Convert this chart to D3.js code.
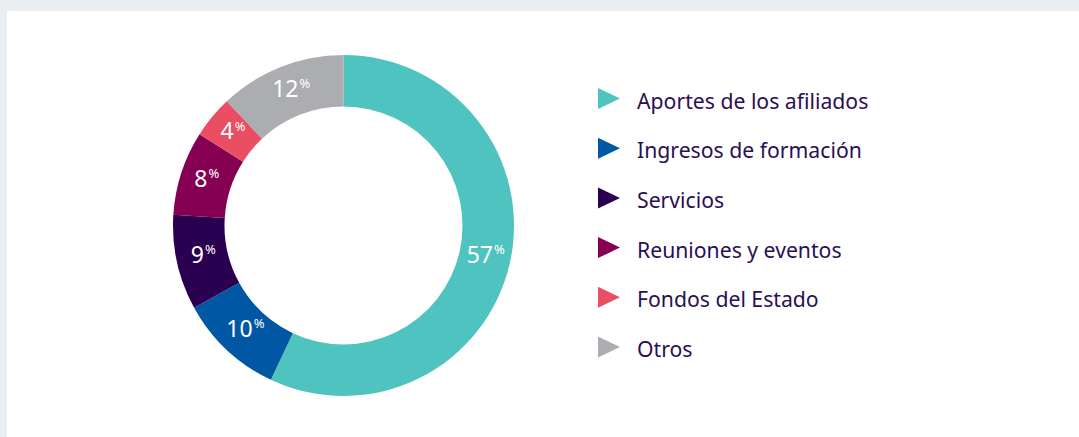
<!DOCTYPE html>
<html>
<head>
<meta charset="utf-8">
<script src="https://cdn.jsdelivr.net/npm/d3@7"></script>
<style>
  html, body { margin: 0; padding: 0; background: #e8eef2; }
  svg { display: block; }
</style>
</head>
<body>
<svg id="chart" width="1079" height="437"></svg>
<script>
var categories = ['Aportes de los afiliados', 'Ingresos de formación', 'Servicios', 'Reuniones y eventos', 'Fondos del Estado', 'Otros'];
var values = [57, 10, 9, 8, 4, 12];
var colors = ['#4ec3bf', '#0057a4', '#2a0050', '#850052', '#e94e62', '#acadb1'];

var svg = d3.select('#chart');
var width = 1079;
var height = 437;

// white panel
svg.append('rect')
    .attr('x', 7).attr('y', 11)
    .attr('width', width - 7).attr('height', height - 11)
    .attr('fill', '#ffffff');

var cx = 343.5, cy = 225.5;
var outer = 170.5, inner = 119;

var data = values.map(function(v, i) { return { name: categories[i], value: v, color: colors[i] }; });

var pie = d3.pie().sort(null).value(function(d) { return d.value; });
var arc = d3.arc().innerRadius(inner).outerRadius(outer);

var g = svg.append('g').attr('transform', 'translate(' + cx + ',' + cy + ')');
var arcs = pie(data);

g.selectAll('path.slice')
    .data(arcs)
    .enter().append('path')
    .attr('class', 'slice')
    .attr('d', arc)
    .attr('fill', function(d) { return d.data.color; });

var labels = g.selectAll('text.lbl')
    .data(arcs)
    .enter().append('text')
    .attr('class', 'lbl')
    .attr('transform', function(d) { var c = arc.centroid(d); return 'translate(' + (c[0] + 1) + ',' + c[1] + ')'; })
    .attr('text-anchor', 'middle')
    .attr('dy', '0.36em')
    .attr('fill', '#ffffff')
    .style('font-family', '"Noto Sans", sans-serif');
labels.append('tspan')
    .style('font-size', '23px')
    .text(function(d) { return d.data.value; });
labels.append('tspan')
    .style('font-size', '13px')
    .attr('dx', '1')
    .attr('dy', '-0.65em')
    .text('%');

// legend
var legend = svg.append('g').attr('transform', 'translate(598, 98.5)');
var row = legend.selectAll('g.row')
    .data(data)
    .enter().append('g')
    .attr('class', 'row')
    .attr('transform', function(d, i) { return 'translate(0,' + (i * 49.7) + ')'; });
row.append('path')
    .attr('d', 'M0,-10.5L22,0L0,10.5Z')
    .attr('fill', function(d) { return d.color; });
row.append('text')
    .attr('x', 39)
    .attr('y', 10)
    .attr('fill', '#2a0f55')
    .style('font-family', '"Noto Sans", sans-serif')
    .style('font-size', '21.2px')
    .text(function(d) { return d.name; });
</script>
</body>
</html>
